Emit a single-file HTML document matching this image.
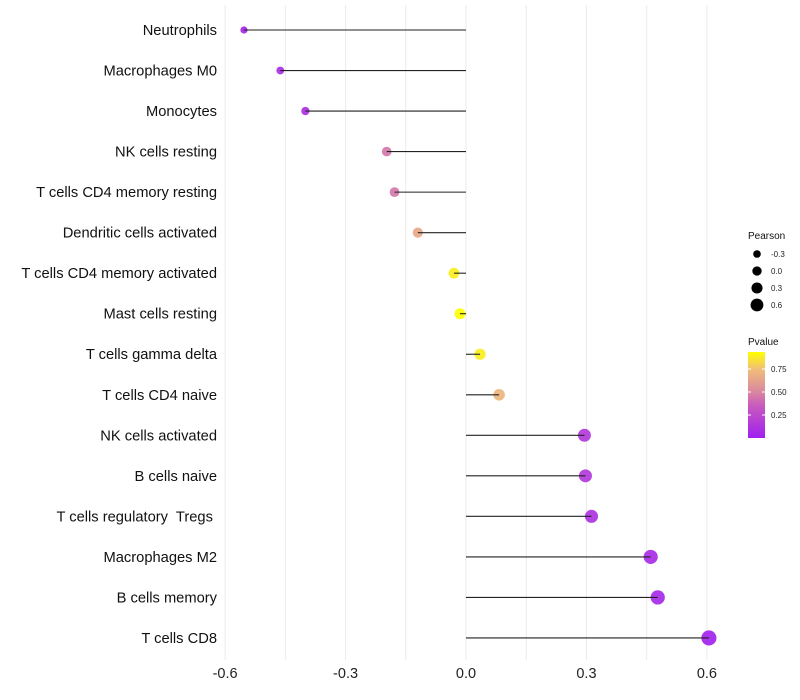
<!DOCTYPE html>
<html><head><meta charset="utf-8"><style>
html,body{margin:0;padding:0;background:#fff;}
svg{display:block;font-family:"Liberation Sans",Arial,sans-serif;}
text{white-space:pre;}
</style></head><body>
<svg id="chart" width="800" height="700"></svg>
<script>
const categories=["Neutrophils","Macrophages M0","Monocytes","NK cells resting","T cells CD4 memory resting","Dendritic cells activated","T cells CD4 memory activated","Mast cells resting","T cells gamma delta","T cells CD4 naive","NK cells activated","B cells naive","T cells regulatory  Tregs ","Macrophages M2","B cells memory","T cells CD8"];
const pearson=[-0.553,-0.4625,-0.40,-0.1975,-0.178,-0.12,-0.03,-0.015,0.035,0.0825,0.295,0.2975,0.3125,0.46,0.4775,0.605];
const pvalues=[0.03,0.07,0.10,0.45,0.45,0.65,0.90,0.95,0.90,0.72,0.15,0.15,0.12,0.07,0.06,0.02];
const xTicks=[-0.6,-0.3,0.0,0.3,0.6];
const xTickLabels=["-0.6","-0.3","0.0","0.3","0.6"];
const sizeLegend=[-0.3,0.0,0.3,0.6];
const sizeLegendLabels=["-0.3","0.0","0.3","0.6"];
const colorTicks=[0.25,0.5,0.75];
const colorTickLabels=["0.25","0.50","0.75"];

const NS="http://www.w3.org/2000/svg";
const svg=document.getElementById('chart');
function mk(tag,attrs,parent){const e=document.createElementNS(NS,tag);for(const k in attrs)e.setAttribute(k,attrs[k]);(parent||svg).appendChild(e);return e;}
const x=v=>466+v*401.5;
const y=i=>30+i*40.53;
const r=v=>Math.max(1.8,5.5+3.4*v);
const stops=[[0,[160,32,240]],[0.35,[200,90,190]],[0.5,[218,135,160]],[0.75,[240,190,120]],[0.95,[255,255,0]]];
function color(p){p=Math.max(0,Math.min(0.95,p));for(let i=1;i<stops.length;i++){if(p<=stops[i][0]){const a=stops[i-1],b=stops[i];const t=(p-a[0])/(b[0]-a[0]);const c=a[1].map((v,k)=>Math.round(v+(b[1][k]-v)*t));return `rgb(${c})`;}}return 'rgb(255,255,0)';}

for(let g=-0.6;g<=0.61;g+=0.15){const l=mk('line',{x1:x(g),x2:x(g),y1:5,y2:660,stroke:'#ebebeb','stroke-width':1});}
xTicks.forEach((t,i)=>{const e=mk('text',{x:x(t),y:678,'text-anchor':'middle','font-size':14.5,fill:'#222'});e.textContent=xTickLabels[i];});
categories.forEach((c,i)=>{
 const t=mk('text',{x:217,y:y(i)+5,'text-anchor':'end','font-size':14.7,fill:'#111'});t.textContent=c;
 
 
 const d=mk('circle',{cx:x(pearson[i]),cy:y(i),r:r(pearson[i]),fill:color(pvalues[i]),'fill-opacity':0.92});
 
 
 const l=mk('line',{x1:x(0),x2:x(pearson[i]),y1:y(i),y2:y(i),stroke:'#222','stroke-width':1.1});
 
 
});
const lt=mk('text',{x:748,y:239,'font-size':10,fill:'#111'});lt.textContent='Pearson';
sizeLegend.forEach((v,i)=>{const cy=254+i*17;const c=mk('circle',{cx:757,cy:cy,r:r(v)*0.85,fill:'#000'});const t=mk('text',{x:771,y:cy+3,'font-size':8,fill:'#222'});t.textContent=sizeLegendLabels[i];});
const ct=mk('text',{x:748,y:345,'font-size':10,fill:'#111'});ct.textContent='Pvalue';
const defs=mk('defs',{});const gr=mk('linearGradient',{id:'pg',x1:0,y1:1,x2:0,y2:0},defs);
stops.forEach(s=>mk('stop',{offset:s[0]/0.935,'stop-color':`rgb(${s[1]})`},gr));
const cb=mk('rect',{x:748,y:352,width:17,height:86,fill:'url(#pg)'});
colorTicks.forEach((v,i)=>{const cy=438-v*92;mk('line',{x1:748,x2:751,y1:cy,y2:cy,stroke:'#fff'});mk('line',{x1:762,x2:765,y1:cy,y2:cy,stroke:'#fff'});const t=mk('text',{x:771,y:cy+3,'font-size':8,fill:'#222'});t.textContent=colorTickLabels[i];});
</script>
</body></html>
